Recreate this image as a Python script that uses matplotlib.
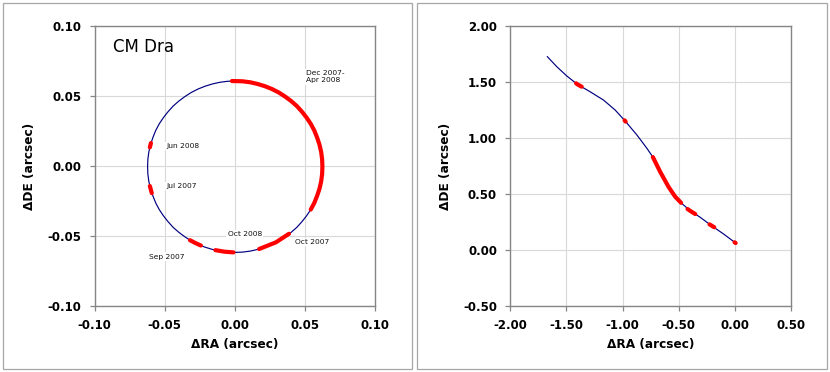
import matplotlib
matplotlib.use("Agg")
import matplotlib.pyplot as plt
from matplotlib.patches import Rectangle
from matplotlib.ticker import FuncFormatter, FixedLocator

plt.rcParams['font.family'] = ['DejaVu Sans']
plt.rcParams['axes.unicode_minus'] = False

# ---------------- Left panel: relative orbit of CM Dra ----------------
orbit_ra = [0.0623, 0.0621, 0.0614, 0.0602, 0.0585, 0.0565, 0.0540, 0.0510, 0.0477, 0.0441,
            0.0400, 0.0357, 0.0312, 0.0263, 0.0213, 0.0161, 0.0108, 0.0054, 0.0000,
            -0.0054, -0.0108, -0.0161, -0.0213, -0.0263, -0.0312, -0.0357, -0.0400, -0.0441,
            -0.0477, -0.0510, -0.0540, -0.0565, -0.0585, -0.0602, -0.0614, -0.0621, -0.0623,
            -0.0621, -0.0614, -0.0602, -0.0585, -0.0565, -0.0540, -0.0510, -0.0477, -0.0441,
            -0.0400, -0.0357, -0.0312, -0.0263, -0.0213, -0.0161, -0.0108, -0.0054, 0.0000,
            0.0054, 0.0108, 0.0161, 0.0213, 0.0263, 0.0312, 0.0357, 0.0400, 0.0441,
            0.0477, 0.0510, 0.0540, 0.0565, 0.0585, 0.0602, 0.0614, 0.0621, 0.0623]
orbit_de = [-0.0005, 0.0048, 0.0101, 0.0153, 0.0204, 0.0254, 0.0301, 0.0346, 0.0388, 0.0428,
            0.0464, 0.0496, 0.0525, 0.0550, 0.0570, 0.0586, 0.0598, 0.0605, 0.0607,
            0.0605, 0.0598, 0.0586, 0.0570, 0.0550, 0.0525, 0.0496, 0.0464, 0.0428,
            0.0388, 0.0346, 0.0301, 0.0254, 0.0204, 0.0153, 0.0101, 0.0048, -0.0005,
            -0.0058, -0.0111, -0.0163, -0.0214, -0.0264, -0.0311, -0.0356, -0.0398, -0.0438,
            -0.0474, -0.0506, -0.0535, -0.0560, -0.0580, -0.0596, -0.0608, -0.0615, -0.0617,
            -0.0615, -0.0608, -0.0596, -0.0580, -0.0560, -0.0535, -0.0506, -0.0474, -0.0438,
            -0.0398, -0.0356, -0.0311, -0.0264, -0.0214, -0.0163, -0.0111, -0.0058, -0.0005]

# observed arcs (red)
obs_dec_apr_ra = [-0.0022, 0.0054, 0.0108, 0.0161, 0.0213, 0.0263, 0.0312, 0.0357, 0.0400,
                  0.0441, 0.0477, 0.0510, 0.0540, 0.0565, 0.0585, 0.0602, 0.0614, 0.0621,
                  0.0623, 0.0621, 0.0614, 0.0602, 0.0585, 0.0565, 0.0540]
obs_dec_apr_de = [0.0607, 0.0605, 0.0598, 0.0586, 0.0570, 0.0550, 0.0525, 0.0496, 0.0464,
                  0.0428, 0.0388, 0.0346, 0.0301, 0.0254, 0.0204, 0.0153, 0.0101, 0.0048,
                  -0.0005, -0.0058, -0.0111, -0.0163, -0.0214, -0.0264, -0.0311]
obs_oct07_ra = [0.0172, 0.0292, 0.0385]
obs_oct07_de = [-0.0593, -0.0545, -0.0484]
obs_oct08_ra = [-0.0140, -0.0076, -0.0011]
obs_oct08_de = [-0.0601, -0.0612, -0.0617]
obs_sep07_ra = [-0.0321, -0.0283, -0.0243]
obs_sep07_de = [-0.0530, -0.0550, -0.0568]
obs_jul07_ra = [-0.0607, -0.0593]
obs_jul07_de = [-0.0143, -0.0194]
obs_jun08_ra = [-0.0599, -0.0607]
obs_jun08_de = [0.0164, 0.0133]

left_labels = ["Dec 2007-\nApr 2008", "Jun 2008", "Jul 2007", "Oct 2008", "Oct 2007", "Sep 2007"]
left_label_ra = [0.0504, -0.0492, -0.0487, -0.0052, 0.0425, -0.0613]
left_label_de = [0.0637, 0.0143, -0.0143, -0.0486, -0.0543, -0.0648]

left_ticks = [-0.10, -0.05, 0.00, 0.05, 0.10]

# ---------------- Right panel: path on the sky ----------------
path_ra = [-1.670, -1.586, -1.497, -1.402, -1.289, -1.170, -1.066, -0.977, -0.872, -0.783,
           -0.730, -0.665, -0.591, -0.531, -0.480, -0.397, -0.308, -0.203, -0.100, 0.004]
path_de = [1.726, 1.637, 1.554, 1.479, 1.413, 1.339, 1.250, 1.152, 1.027, 0.908,
           0.830, 0.699, 0.565, 0.476, 0.422, 0.351, 0.292, 0.214, 0.143, 0.065]

seg1_ra = [-1.414, -1.402, -1.364]
seg1_de = [1.488, 1.479, 1.458]
seg2_ra = [-0.982, -0.972]
seg2_de = [1.158, 1.146]
seg3_ra = [-0.730, -0.665, -0.591, -0.531, -0.478]
seg3_de = [0.830, 0.699, 0.565, 0.476, 0.421]
seg4_ra = [-0.421, -0.386, -0.352]
seg4_de = [0.366, 0.342, 0.321]
seg5_ra = [-0.225, -0.183]
seg5_de = [0.229, 0.203]
seg6_ra = [-0.002, 0.008]
seg6_de = [0.069, 0.062]

right_xticks = [-2.00, -1.50, -1.00, -0.50, 0.00, 0.50]
right_yticks = [-0.50, 0.00, 0.50, 1.00, 1.50, 2.00]

BLUE = '#000080'
RED = '#ff0000'
FRAME = '#868686'
GRID = '#d9d9d9'

fig = plt.figure(figsize=(8.3, 3.72), dpi=100)

# outer chart borders
for x0, x1 in [(2.5, 411.5), (417.0, 827.0)]:
    fig.add_artist(Rectangle((x0 / 830, 3.5 / 372), (x1 - x0) / 830, (369.5 - 3.5) / 372,
                             transform=fig.transFigure, fill=False,
                             edgecolor='#a6a6a6', linewidth=0.9))

axL = fig.add_axes([94.7 / 830, 66 / 372, 280.6 / 830, 280 / 372])
axR = fig.add_axes([510.3 / 830, 66 / 372, 280.6 / 830, 280 / 372])

fmt = FuncFormatter(lambda v, p: f"{v:.2f}")
for ax in (axL, axR):
    for s in ax.spines.values():
        s.set_color(FRAME)
        s.set_linewidth(1.0)
    ax.grid(True, color=GRID, linewidth=0.8)
    ax.set_axisbelow(True)
    ax.tick_params(direction='out', length=3.5, width=0.9, color=FRAME,
                   labelsize=8.5, pad=6)
    ax.xaxis.set_major_formatter(fmt)
    ax.yaxis.set_major_formatter(fmt)
    ax.set_xlabel("ΔRA (arcsec)", fontsize=8.7, fontweight='bold', labelpad=4)
    ax.set_ylabel("ΔDE (arcsec)", fontsize=8.7, fontweight='bold', labelpad=8)

# left
axL.plot(orbit_ra, orbit_de, color=BLUE, linewidth=0.85, solid_joinstyle='round', zorder=2)
for xs, ys in [(obs_dec_apr_ra, obs_dec_apr_de), (obs_oct07_ra, obs_oct07_de),
               (obs_oct08_ra, obs_oct08_de), (obs_sep07_ra, obs_sep07_de),
               (obs_jul07_ra, obs_jul07_de), (obs_jun08_ra, obs_jun08_de)]:
    axL.plot(xs, ys, color=RED, linewidth=3.0, solid_capstyle='round',
             solid_joinstyle='round', zorder=3)
for t, x, y in zip(left_labels, left_label_ra, left_label_de):
    axL.text(x, y, t, fontsize=5.4, color='#111111', ha='left', va='center',
             linespacing=1.25, zorder=4,
             bbox=dict(facecolor='white', edgecolor='none', pad=1.0))
axL.text(-0.087, 0.0848, "CM Dra", fontsize=12, ha='left', va='center')
axL.set_xlim(-0.10, 0.10)
axL.set_ylim(-0.10, 0.10)
axL.xaxis.set_major_locator(FixedLocator(left_ticks))
axL.yaxis.set_major_locator(FixedLocator(left_ticks))

# right
axR.plot(path_ra, path_de, color=BLUE, linewidth=0.85, solid_joinstyle='round', zorder=2)
for xs, ys in [(seg1_ra, seg1_de), (seg2_ra, seg2_de), (seg3_ra, seg3_de),
               (seg4_ra, seg4_de), (seg5_ra, seg5_de), (seg6_ra, seg6_de)]:
    axR.plot(xs, ys, color=RED, linewidth=3.0, solid_capstyle='round',
             solid_joinstyle='round', zorder=3)
axR.set_xlim(-2.0, 0.5)
axR.set_ylim(-0.5, 2.0)
axR.xaxis.set_major_locator(FixedLocator(right_xticks))
axR.yaxis.set_major_locator(FixedLocator(right_yticks))

for ax in (axL, axR):
    for lab in ax.get_xticklabels() + ax.get_yticklabels():
        lab.set_fontweight('bold')

fig.savefig("out.png", dpi=100)
